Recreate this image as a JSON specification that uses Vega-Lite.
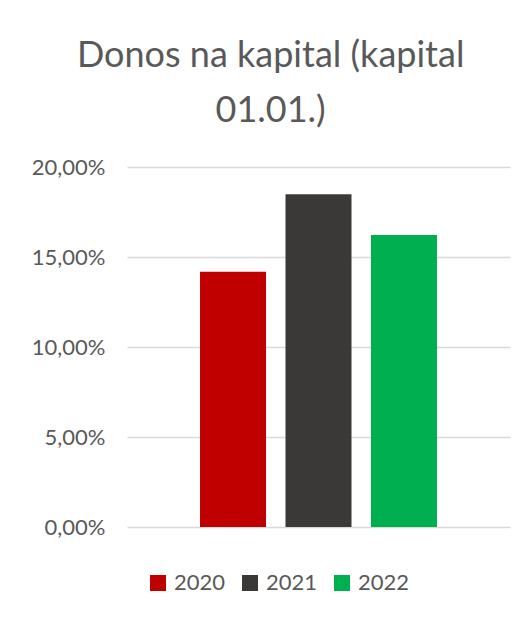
{
  "$schema": "https://vega.github.io/schema/vega-lite/v6.json",
  "width": 383,
  "height": 360,
  "autosize": {"type": "none"},
  "padding": {"left": 127, "top": 167, "right": 18, "bottom": 90},
  "background": "white",
  "title": {
    "text": ["Donos na kapital (kapital", "01.01.)"],
    "anchor": "middle",
    "frame": "bounds",
    "font": "Lato",
    "fontSize": 36,
    "fontWeight": "normal",
    "color": "#595959",
    "lineHeight": 55,
    "offset": 26
  },
  "data": {
    "values": [
      {"year": "2020", "value": 0.1418},
      {"year": "2021", "value": 0.1848},
      {"year": "2022", "value": 0.1622}
    ]
  },
  "mark": {"type": "bar"},
  "encoding": {
    "x": {
      "field": "year",
      "type": "nominal",
      "axis": null,
      "scale": {"paddingInner": 0.228, "paddingOuter": 0.854}
    },
    "y": {
      "field": "value",
      "type": "quantitative",
      "scale": {"domain": [0, 0.2], "nice": false},
      "axis": {
        "values": [0, 0.05, 0.1, 0.15, 0.2],
        "format": ".2%",
        "title": null,
        "ticks": false,
        "domain": false,
        "labelPadding": 22,
        "labelFont": "Lato",
        "labelFontSize": 22,
        "labelColor": "#595959",
        "gridColor": "#d9d9d9",
        "gridWidth": 1.5
      }
    },
    "color": {
      "field": "year",
      "type": "nominal",
      "scale": {"domain": ["2020", "2021", "2022"], "range": ["#C00000", "#3B3838", "#00B050"]},
      "legend": {
        "title": null,
        "orient": "none",
        "direction": "horizontal",
        "legendX": 20,
        "legendY": 405,
        "symbolType": "square",
        "symbolSize": 256,
        "symbolStrokeWidth": 0,
        "labelFont": "Lato",
        "labelFontSize": 22,
        "labelColor": "#595959",
        "labelOffset": 5,
        "columnPadding": 13
      }
    }
  },
  "config": {
    "view": {"stroke": null},
    "locale": {
      "number": {"decimal": ",", "thousands": ".", "grouping": [3], "currency": ["", " €"]}
    }
  }
}
